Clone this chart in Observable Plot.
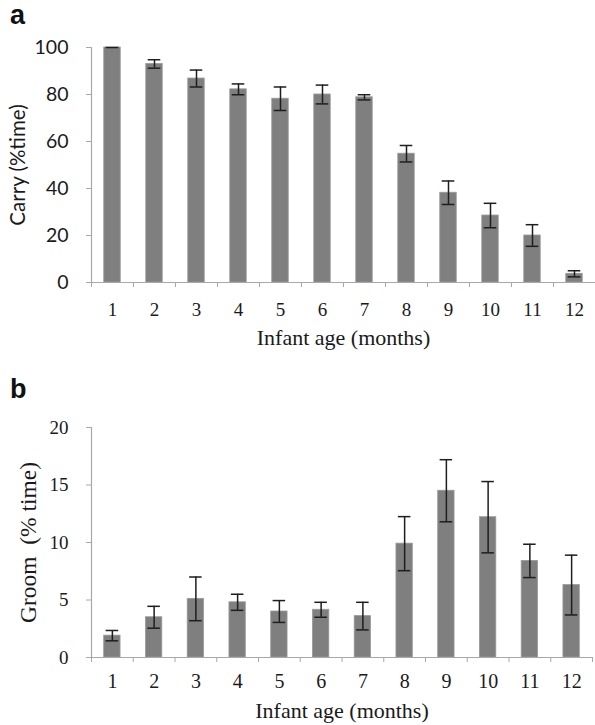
<!DOCTYPE html>
<html>
<head>
<meta charset="utf-8">
<script src="https://cdn.jsdelivr.net/npm/d3@7"></script>
<script src="https://cdn.jsdelivr.net/npm/@observablehq/plot@0.6"></script>
<style>
  html, body { margin: 0; padding: 0; background: #fff; }
  #root { position: relative; width: 595px; height: 725px; overflow: hidden; }
  .panel { position: absolute; left: 0; }
  .letter { position: absolute; font-family: "Liberation Sans", Arial, sans-serif; font-weight: bold; font-size: 27px; color: #111; line-height: 1; }
  svg { overflow: visible; }
</style>
</head>
<body>
<div id="root">
  <div class="letter" style="left:10px; top:2px;">a</div>
  <div class="letter" style="left:10px; top:376px;">b</div>
  <div id="pa" class="panel" style="top:30px;"></div>
  <div id="pb" class="panel" style="top:400px;"></div>
</div>
<script>
// ---- data ----
const months = [1, 2, 3, 4, 5, 6, 7, 8, 9, 10, 11, 12];
const carryMean = [100, 93, 86.8, 82.2, 78.2, 80, 78.8, 54.8, 38.2, 28.5, 20, 3.7];
const carryErr  = [0, 1.8, 3.6, 2.3, 5, 4, 1.1, 3.5, 5, 5.2, 4.6, 1.3];
const groomMean = [1.9, 3.5, 5.1, 4.8, 4.0, 4.15, 3.6, 9.9, 14.5, 12.2, 8.4, 6.3];
const groomErr  = [0.45, 0.95, 1.9, 0.7, 0.95, 0.65, 1.2, 2.35, 2.7, 3.1, 1.45, 2.6];
const carryTicks = [0, 20, 40, 60, 80, 100];
const groomTicks = [0, 5, 10, 15, 20];
const xTitle = "Infant age (months)";
const carryTitle = "Carry (%time)";
const groomTitle = "Groom  (% time)";

const carry = months.map((m, i) => ({m, v: carryMean[i], e: carryErr[i]}));
const groom = months.map((m, i) => ({m, v: groomMean[i], e: groomErr[i]}));
const bounds = [months[0] - 0.5, ...months.map(m => m + 0.5)];

const serif = "'Liberation Serif', 'Times New Roman', serif";
const sans = "Lato, 'Liberation Sans', sans-serif";
const axisGray = "#a8a8a8";
const barFill = "#7f7f7f";
const errColor = "#1e1e1e";
const half = 0.196, cap = 0.15;

function panel({rows, yTicks, yMax, height, mt, mb, mr, yFont, yFontSize, yTitle, yTitleFont, yTitleSize, yTitleDx, xPad, xFontSize, xTitleDy}) {
  return Plot.plot({
    width: 595,
    height,
    marginLeft: 91,
    marginRight: mr,
    marginTop: mt,
    marginBottom: mb,
    style: {background: "transparent", overflow: "visible"},
    x: {domain: [bounds[0], bounds[bounds.length - 1]], axis: null, label: null},
    y: {domain: [0, yMax], axis: null, label: null},
    marks: [
      Plot.rectY(rows, {x1: d => d.m - half, x2: d => d.m + half, y: "v", fill: barFill, stroke: "#9a9a9a", strokeWidth: 0.8}),
      Plot.ruleX(rows, {x: "m", y1: d => d.v - d.e, y2: d => d.v + d.e, stroke: errColor, strokeWidth: 1.5}),
      Plot.ruleY(rows, {y: d => d.v + d.e, x1: d => d.m - cap, x2: d => d.m + cap, stroke: errColor, strokeWidth: 1.5}),
      Plot.ruleY(rows, {y: d => d.v - d.e, x1: d => d.m - cap, x2: d => d.m + cap, stroke: errColor, strokeWidth: 1.5, filter: d => d.e > 0}),
      Plot.ruleY([0], {stroke: axisGray, strokeWidth: 1.2}),
      Plot.ruleX([bounds[0]], {stroke: axisGray, strokeWidth: 1.2}),
      Plot.axisX(bounds, {tickSize: 5, tickFormat: () => "", stroke: axisGray, label: null}),
      Plot.axisX(months, {tickSize: 0, tickPadding: xPad, fontSize: xFontSize, fontFamily: serif, fill: "#1a1a1a", label: null}),
      Plot.axisY(yTicks, {tickSize: 5, tickPadding: 18, stroke: axisGray, fill: "#1a1a1a", fontSize: yFontSize, fontFamily: yFont, label: null}),
      Plot.text([xTitle], {text: d => d, frameAnchor: "bottom", textAnchor: "middle", dy: xTitleDy, fontSize: 22, fontFamily: serif, fill: "#1a1a1a"}),
      Plot.text([yTitle], {text: d => d, frameAnchor: "left", textAnchor: "middle", dx: yTitleDx, rotate: -90, fontSize: yTitleSize, fontFamily: yTitleFont, fill: "#1a1a1a"})
    ]
  });
}

document.getElementById("pa").append(panel({
  rows: carry, yTicks: carryTicks, yMax: 100, height: 330, mt: 17, mb: 78, mr: 0,
  yFont: sans, yFontSize: 19.5, yTitle: carryTitle, yTitleFont: sans, yTitleSize: 20.5, yTitleDx: -73,
  xPad: 20, xFontSize: 19, xTitleDy: 62
}));
document.getElementById("pb").append(panel({
  rows: groom, yTicks: groomTicks, yMax: 20, height: 325, mt: 27, mb: 68, mr: 3,
  yFont: serif, yFontSize: 19, yTitle: groomTitle, yTitleFont: serif, yTitleSize: 23.5, yTitleDx: -63,
  xPad: 16, xFontSize: 20, xTitleDy: 60
}));
</script>
</body>
</html>
